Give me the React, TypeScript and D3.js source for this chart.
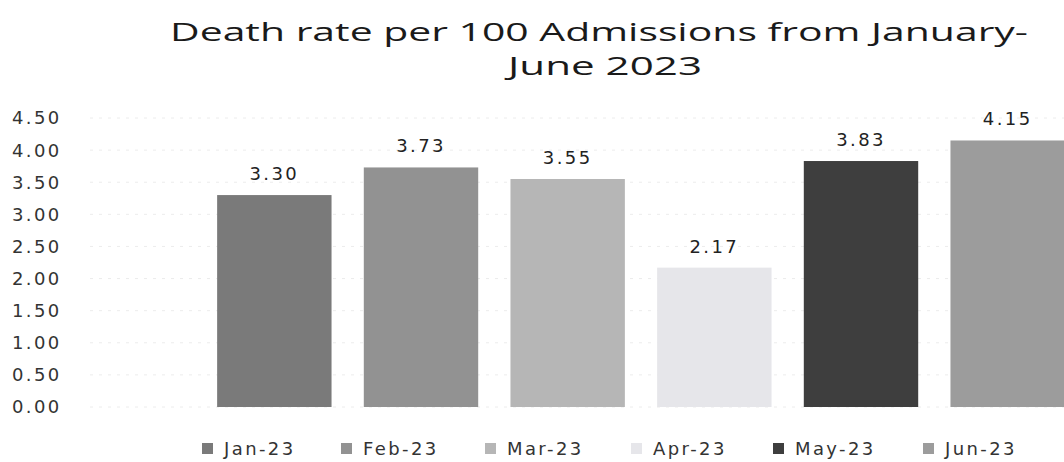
import React from "react";
import * as d3 from "d3";

// Monthly death rate per 100 admissions
const months: string[] = ["Jan-23", "Feb-23", "Mar-23", "Apr-23", "May-23", "Jun-23"];
const rates: number[] = [3.3, 3.73, 3.55, 2.17, 3.83, 4.15];
const barColors: string[] = ["#7a7a7a", "#929292", "#b6b6b6", "#e6e6ea", "#3e3e3e", "#9c9c9c"];
const yTicks: number[] = [0, 0.5, 1, 1.5, 2, 2.5, 3, 3.5, 4, 4.5];
const titleLines: string[] = ["Death rate per 100 Admissions from January-", "June 2023"];

const W = 1064;
const H = 462;
const labelFont = "'DejaVu Sans', Verdana, sans-serif";
const titleFont = "'Open Sans', 'Liberation Sans', sans-serif";

export default function App() {
  const y = d3.scaleLinear().domain([0, 4.5]).range([407, 118]);
  const x = d3
    .scaleBand<string>()
    .domain(months)
    .range([201, 1081])
    .paddingInner(0.22)
    .paddingOuter(0.11);

  // legend text start positions; swatch sits to the left of each
  const legendX: number[] = [224, 363, 507, 653, 795, 945];
  const titleWidths: number[] = [858, 194];
  const titleCx: number[] = [599, 605];

  return (
    <svg
      width={W}
      height={H}
      style={{ position: "absolute", left: 0, top: 0, background: "#fff" }}
    >
      {/* title */}
      {titleLines.map((t, i) => (
        <text
          key={t}
          x={titleCx[i]}
          y={41 + i * 34}
          textAnchor="middle"
          fontFamily={titleFont}
          fontSize={25}
          textLength={titleWidths[i]}
          lengthAdjust="spacingAndGlyphs"
          fill="#1a1a1a"
        >
          {t}
        </text>
      ))}

      {/* gridlines */}
      {yTicks.map((t) => (
        <line
          key={"g" + t}
          x1={90}
          x2={W}
          y1={y(t)}
          y2={y(t)}
          stroke="#ececec"
          strokeWidth={1}
          strokeDasharray="3 6"
        />
      ))}

      {/* y axis labels */}
      {yTicks.map((t) => (
        <text
          key={"t" + t}
          x={12}
          y={y(t)}
          dy="0.36em"
          fontFamily={labelFont}
          fontSize={18}
          letterSpacing={2.4}
          fill="#333"
        >
          {d3.format(".2f")(t)}
        </text>
      ))}

      {/* bars */}
      {months.map((m, i) => (
        <rect
          key={m}
          x={x(m)}
          y={y(rates[i])}
          width={x.bandwidth()}
          height={y(0) - y(rates[i])}
          fill={barColors[i]}
        />
      ))}

      {/* value labels */}
      {months.map((m, i) => (
        <text
          key={"v" + m}
          x={(x(m) as number) + x.bandwidth() / 2}
          y={y(rates[i]) - 15}
          textAnchor="middle"
          fontFamily={labelFont}
          fontSize={18}
          letterSpacing={2.4}
          fill="#222"
        >
          {d3.format(".2f")(rates[i])}
        </text>
      ))}

      {/* legend */}
      {months.map((m, i) => (
        <g key={"l" + m} transform={`translate(${legendX[i]},449)`}>
          <rect x={-22} y={-6} width={11} height={11} fill={barColors[i]} />
          <text
            x={0}
            y={0}
            dy="0.36em"
            fontFamily={labelFont}
            fontSize={18}
            letterSpacing={2.4}
            fill="#333"
          >
            {m}
          </text>
        </g>
      ))}
    </svg>
  );
}
